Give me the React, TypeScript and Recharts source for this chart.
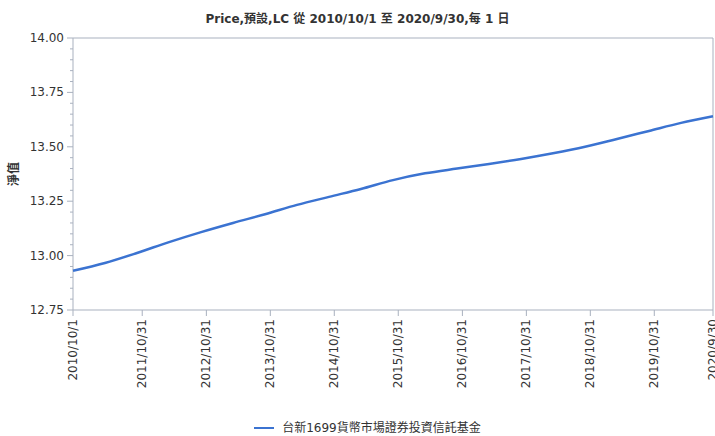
import {
  LineChart,
  Line,
  XAxis,
  YAxis,
  Legend,
  ReferenceArea,
  Label,
} from 'recharts';

const dates = [
  '2010/10/1', '2011/4/1', '2011/10/1', '2012/4/1', '2012/10/1', '2013/4/1',
  '2013/10/1', '2014/4/1', '2014/10/1', '2015/4/1', '2015/10/1', '2016/4/1',
  '2016/10/1', '2017/4/1', '2017/10/1', '2018/4/1', '2018/10/1', '2019/4/1',
  '2019/10/1', '2020/4/1', '2020/9/30',
];

const nav = [
  12.93, 12.966, 13.012, 13.062, 13.108, 13.15,
  13.19, 13.233, 13.27, 13.306, 13.347, 13.378,
  13.4, 13.421, 13.444, 13.47, 13.5, 13.536,
  13.573, 13.61, 13.64,
];

const tickLabels = [
  '2010/10/1', '2011/10/31', '2012/10/31', '2013/10/31', '2014/10/31',
  '2015/10/31', '2016/10/31', '2017/10/31', '2018/10/31', '2019/10/31',
  '2020/9/30',
];

const yTicks = [12.75, 12.8, 12.85, 12.9, 12.95, 13, 13.05, 13.1, 13.15, 13.2,
  13.25, 13.3, 13.35, 13.4, 13.45, 13.5, 13.55, 13.6, 13.65, 13.7, 13.75, 13.8,
  13.85, 13.9, 13.95, 14];

const toTime = (s: string) => {
  const [y, m, d] = s.split('/').map(Number);
  return Date.UTC(y, m - 1, d);
};

const data = dates.map((d, i) => ({ t: toTime(d), nav: nav[i] }));
const xTicks = tickLabels.map(toTime);
const xStart = toTime(dates[0]);
const xEnd = toTime(dates[dates.length - 1]);

const FONT = '"DejaVu Sans", "Noto Sans CJK TC", sans-serif';
const FRAME = '#a9b1bf';

const fmtDate = (t: number) => {
  const d = new Date(t);
  return `${d.getUTCFullYear()}/${d.getUTCMonth() + 1}/${d.getUTCDate()}`;
};

function YTick(props: any) {
  const { x, y, payload } = props;
  const v = payload.value;
  const major = Math.abs(v * 4 - Math.round(v * 4)) < 1e-6;
  return (
    <g>
      <line x1={major ? x + 3 : x + 6} x2={x + 9} y1={y} y2={y} stroke={FRAME} />
      {major && (
        <text x={x} y={y} dy={4} textAnchor="end" fontSize={12} fill="#333" fontFamily={FONT}>
          {v.toFixed(2)}
        </text>
      )}
    </g>
  );
}

function XTick(props: any) {
  const { x, y, payload } = props;
  return (
    <g>
      <line x1={x} x2={x} y1={y - 8} y2={y - 2} stroke={FRAME} />
      <text
        transform={`translate(${x + 4},${y + 1}) rotate(-90)`}
        textAnchor="end"
        fontSize={12}
        fill="#333"
        fontFamily={FONT}
      >
        {fmtDate(payload.value)}
      </text>
    </g>
  );
}

function LegendBox() {
  return (
    <div style={{ display: 'flex', alignItems: 'center', justifyContent: 'center', fontFamily: FONT, fontSize: 12, color: '#333', lineHeight: '14px' }}>
      <span style={{ display: 'inline-block', width: 20, height: 2, background: '#3b73d1', marginRight: 8 }} />
      台新1699貨幣市場證券投資信託基金
    </div>
  );
}

export default function App() {
  return (
    <div style={{ position: 'absolute', left: 0, top: 0, width: 715, height: 436, background: '#fff', overflow: 'hidden' }}>
      <div
        style={{
          position: 'absolute',
          top: 9,
          left: 0,
          width: 715,
          textAlign: 'center',
          fontFamily: FONT,
          fontSize: 12,
          fontWeight: 'bold',
          color: '#333',
        }}
      >
        Price,預設,LC 從 2010/10/1 至 2020/9/30,每 1 日
      </div>
      <LineChart width={715} height={436} data={data} margin={{ top: 38, right: 2, bottom: 42, left: 0 }}>
        <ReferenceArea x1={xStart} x2={xEnd} y1={12.75} y2={14} fill="none" stroke={FRAME} />
        <XAxis
          dataKey="t"
          type="number"
          domain={[xStart, xEnd]}
          ticks={xTicks}
          interval={0}
          height={70}
          axisLine={false}
          tickLine={false}
          tickSize={0}
          tickMargin={8}
          tick={<XTick />}
        />
        <YAxis
          type="number"
          domain={[12.75, 14]}
          ticks={yTicks}
          interval={0}
          width={73}
          axisLine={false}
          tickLine={false}
          tickSize={6}
          tickMargin={3}
          tick={<YTick />}
        >
          <Label
            value="淨值"
            angle={-90}
            position="insideLeft"
            offset={14}
            style={{ fontFamily: FONT, fontSize: 12, fontWeight: 'bold', fill: '#333', textAnchor: 'middle' }}
          />
        </YAxis>
        <Line
          type="monotone"
          dataKey="nav"
          stroke="#3b73d1"
          strokeWidth={2.5}
          dot={false}
          isAnimationActive={false}
        />
        <Legend
          content={<LegendBox />}
          wrapperStyle={{ position: 'absolute', top: 421, left: 10, width: 715 }}
        />
      </LineChart>
    </div>
  );
}
